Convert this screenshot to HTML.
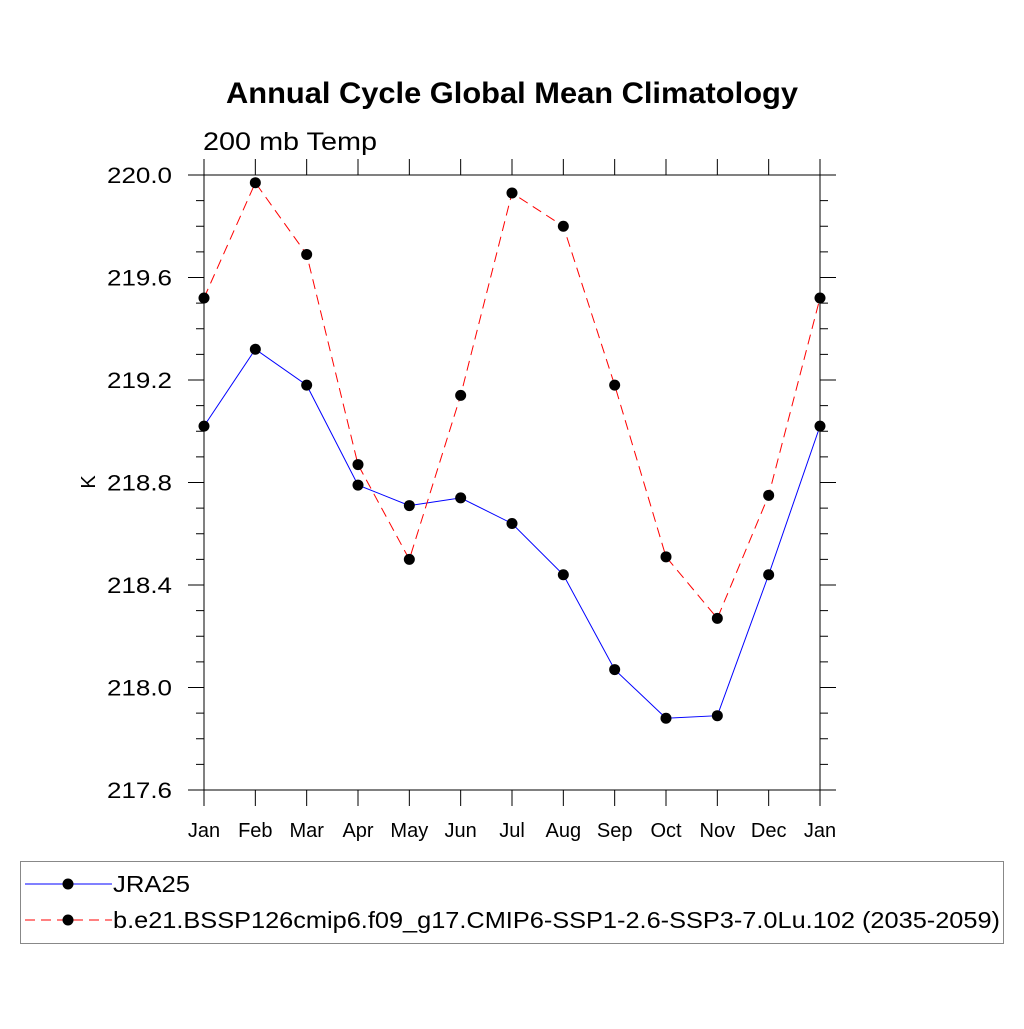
<!DOCTYPE html>
<html><head><meta charset="utf-8"><style>
body{margin:0;background:#fff}
svg text{font-family:"Liberation Sans",sans-serif}
</style></head><body>
<svg id="chart" width="1024" height="1024" xmlns="http://www.w3.org/2000/svg">
<text x="226" y="103" font-size="30" font-weight="bold" textLength="572" lengthAdjust="spacingAndGlyphs">Annual Cycle Global Mean Climatology</text>
<text x="203" y="150" font-size="25" textLength="174" lengthAdjust="spacingAndGlyphs">200 mb Temp</text>
<text transform="translate(95,482) rotate(-90)" text-anchor="middle" font-size="20">K</text>
<g id="axes"></g><g id="series"></g>
<g>
<rect x="20.5" y="861.5" width="983" height="82" fill="none" stroke="#888" stroke-width="1"/>
<line x1="25" y1="884" x2="112" y2="884" stroke="blue" stroke-width="1"/>
<circle cx="68" cy="884" r="5.5" fill="#000"/>
<text x="113" y="892" font-size="23" textLength="77" lengthAdjust="spacingAndGlyphs">JRA25</text>
<line x1="25" y1="920" x2="112" y2="920" stroke="red" stroke-width="1" stroke-dasharray="10,6"/>
<circle cx="68" cy="920" r="5.5" fill="#000"/>
<text x="113" y="928" font-size="23" textLength="887" lengthAdjust="spacingAndGlyphs">b.e21.BSSP126cmip6.f09_g17.CMIP6-SSP1-2.6-SSP3-7.0Lu.102 (2035-2059)</text>
</g>
</svg>
<script>
const months=["Jan","Feb","Mar","Apr","May","Jun","Jul","Aug","Sep","Oct","Nov","Dec","Jan"];
const jra25=[219.02,219.32,219.18,218.79,218.71,218.74,218.64,218.44,218.07,217.88,217.89,218.44,219.02];
const model=[219.52,219.97,219.69,218.87,218.50,219.14,219.93,219.80,219.18,218.51,218.27,218.75,219.52];
const yTicks=["217.6","218.0","218.4","218.8","219.2","219.6","220.0"];
const NS="http://www.w3.org/2000/svg";
const L=204,R=820,T=175,B=790,yMin=217.6,yMax=220.0;
const xs=i=>L+(R-L)*i/(months.length-1);
const ys=v=>B-(v-yMin)/(yMax-yMin)*(B-T);
function mk(tag,attrs,parent){const e=document.createElementNS(NS,tag);for(const k in attrs)e.setAttribute(k,attrs[k]);parent.appendChild(e);return e;}
const ax=document.getElementById('axes');
const fr=mk('rect',{x:L,y:T,width:R-L,height:B-T,fill:'none',stroke:'#000','stroke-width':1},ax);


months.forEach((m,i)=>{
  const x=xs(i);
  mk('line',{x1:x,y1:B,x2:x,y2:B+16,stroke:'#000'},ax);
  mk('line',{x1:x,y1:T,x2:x,y2:T-16,stroke:'#000'},ax);
  const t=mk('text',{x:x,y:837,'text-anchor':'middle','font-size':20},ax);
  t.textContent=m;
  
  
});
for(let v=0;v<=24;v++){
  const val=yMin+v*0.1,y=ys(val),major=v%4===0;
  const len=major?16:8;
  mk('line',{x1:L,y1:y,x2:L-len,y2:y,stroke:'#000'},ax);
  mk('line',{x1:R,y1:y,x2:R+len,y2:y,stroke:'#000'},ax);
}
yTicks.forEach(s=>{
  const t=mk('text',{x:107,y:ys(parseFloat(s))+8,'font-size':22,textLength:65,lengthAdjust:'spacingAndGlyphs'},ax);
  t.textContent=s;
  
  
});
const sg=document.getElementById('series');
function drawSeries(vals,color,dash,name){
  const pts=vals.map((v,i)=>xs(i)+','+ys(v)).join(' ');
  const pl=mk('polyline',{points:pts,fill:'none',stroke:color,'stroke-width':1},sg);
  if(dash)pl.setAttribute('stroke-dasharray',dash);
  
  
  vals.forEach((v,i)=>{
    const c=mk('circle',{cx:xs(i),cy:ys(v),r:5.5,fill:'#000'},sg);
    
    
  });
}
drawSeries(jra25,'blue',null,'jra25');
drawSeries(model,'red','10,6','model');
</script>
</body></html>
